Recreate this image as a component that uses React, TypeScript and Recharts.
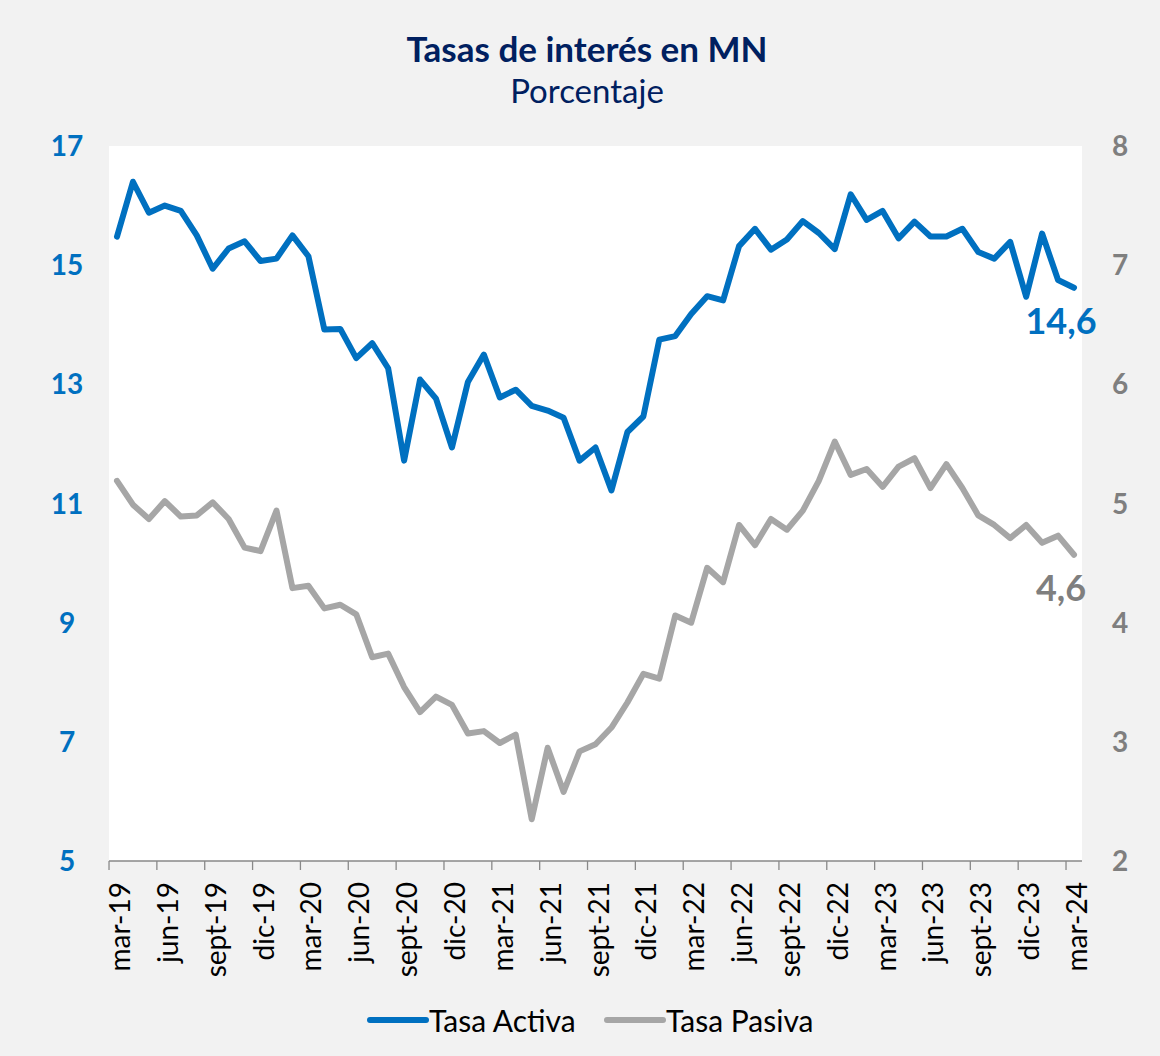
import React from 'react';
import { LineChart, Line, XAxis, YAxis, CartesianGrid, LabelList } from 'recharts';

const MONTH_NAMES = ['ene', 'feb', 'mar', 'abr', 'may', 'jun', 'jul', 'ago', 'sept', 'oct', 'nov', 'dic'];
const START_YEAR = 2019;
const START_MONTH = 2; // mar
const N_MONTHS = 61;
const categories: string[] = Array.from({ length: N_MONTHS }, (_, i) => {
  const m = (START_MONTH + i) % 12;
  const y = START_YEAR + Math.floor((START_MONTH + i) / 12);
  return `${MONTH_NAMES[m]}-${String(y).slice(2)}`;
});

const tasaActiva = [
  15.48, 16.40, 15.88, 16.00, 15.91, 15.50, 14.94, 15.28, 15.40, 15.07,
  15.11, 15.50, 15.15, 13.92, 13.93, 13.44, 13.69, 13.27, 11.72, 13.08,
  12.76, 11.94, 13.04, 13.50, 12.78, 12.91, 12.64, 12.56, 12.44, 11.72,
  11.94, 11.22, 12.20, 12.46, 13.75, 13.81, 14.18, 14.48, 14.41, 15.32,
  15.61, 15.26, 15.43, 15.74, 15.54, 15.27, 16.19, 15.76, 15.91, 15.45,
  15.73, 15.48, 15.48, 15.61, 15.22, 15.11, 15.39, 14.47, 15.53, 14.75,
  14.62,
];

const tasaPasiva = [
  5.19, 4.99, 4.87, 5.02, 4.89, 4.90, 5.01, 4.87, 4.63, 4.60,
  4.94, 4.29, 4.31, 4.12, 4.15, 4.07, 3.71, 3.74, 3.46, 3.25,
  3.38, 3.31, 3.07, 3.09, 2.99, 3.06, 2.35, 2.95, 2.58, 2.92,
  2.98, 3.12, 3.33, 3.57, 3.53, 4.06, 4.00, 4.46, 4.34, 4.82,
  4.65, 4.87, 4.78, 4.94, 5.19, 5.52, 5.24, 5.29, 5.14, 5.31,
  5.38, 5.13, 5.33, 5.13, 4.90, 4.82, 4.71, 4.82, 4.67, 4.73,
  4.57,
];

const leftTicks = [5, 7, 9, 11, 13, 15, 17];
const rightTicks = [2, 3, 4, 5, 6, 7, 8];

const TITLE = 'Tasas de interés en MN';
const SUBTITLE = 'Porcentaje';

const BLUE = '#0070c0';
const GRAY = '#a6a6a6';
const GRAY_TEXT = '#7f7f7f';
const NAVY = '#002060';
const FONT = 'Lato, "Open Sans", sans-serif';

const series = [
  { key: 'activa', name: 'Tasa Activa', color: BLUE, labelColor: BLUE, axis: 'left' },
  { key: 'pasiva', name: 'Tasa Pasiva', color: GRAY, labelColor: GRAY_TEXT, axis: 'right' },
];

const data = categories.map((mes, i) => ({ mes, activa: tasaActiva[i], pasiva: tasaPasiva[i] }));

const W = 1160;
const H = 1056;
const MARGIN = { top: 146, right: 0, left: 0, bottom: 75 };
const LEFT_W = 109;
const RIGHT_W = 78;
const XAXIS_H = 120;
const PAD = 8;
const PLOT_W = W - LEFT_W - RIGHT_W;
const STEP = (PLOT_W - 2 * PAD) / (N_MONTHS - 1);

const fmt = (v: number) => v.toFixed(1).replace('.', ',');

const XTick = (props: any) => {
  const { x, y, payload } = props;
  const bx = x - STEP / 2;
  const tx = x + 13;
  const ty = y + 21;
  return (
    <g>
      <line x1={bx} y1={y} x2={bx} y2={y + 9} stroke="#898989" strokeWidth={1.3} />
      <text
        x={tx}
        y={ty}
        transform={`rotate(-90, ${tx}, ${ty})`}
        textAnchor="end"
        fontFamily={FONT}
        fontSize={28}
        fill="#000"
      >
        {payload.value}
      </text>
    </g>
  );
};

const LeftTick = (props: any) => {
  const { x, y, payload } = props;
  return (
    <text x={x - 42} y={y + 10} textAnchor="middle" fontFamily={FONT} fontWeight={700} fontSize={28} fill={BLUE}>
      {payload.value}
    </text>
  );
};

const RightTick = (props: any) => {
  const { x, y, payload } = props;
  return (
    <text x={x + 38} y={y + 10} textAnchor="middle" fontFamily={FONT} fontWeight={700} fontSize={28} fill={GRAY_TEXT}>
      {payload.value}
    </text>
  );
};

const makeEndLabel = (color: string) => (props: any) => {
  const { x, y, index, value } = props;
  if (index !== N_MONTHS - 1) return <g />;
  return (
    <text x={x - 13} y={y + 46} textAnchor="middle" fontFamily={FONT} fontWeight={700} fontSize={36} fill={color}>
      {fmt(Number(value))}
    </text>
  );
};

export default function App() {
  return (
    <div style={{ position: 'absolute', left: 0, top: 0, width: W, height: H, background: '#f2f2f2', overflow: 'hidden' }}>
      <LineChart width={W} height={H} data={data} margin={MARGIN}>
        <CartesianGrid fill="#ffffff" horizontal={false} vertical={false} stroke="none" />
        <XAxis
          dataKey="mes"
          interval={2}
          height={XAXIS_H}
          padding={{ left: PAD, right: PAD }}
          tickLine={false}
          tickSize={0}
          tickMargin={0}
          axisLine={{ stroke: '#898989', strokeWidth: 1.3 }}
          tick={<XTick />}
        />
        <YAxis
          yAxisId="left"
          domain={[5, 17]}
          ticks={leftTicks}
          width={LEFT_W}
          axisLine={false}
          tickLine={false}
          tickSize={0}
          tickMargin={0}
          tick={<LeftTick />}
          allowDataOverflow
        />
        <YAxis
          yAxisId="right"
          orientation="right"
          domain={[2, 8]}
          ticks={rightTicks}
          width={RIGHT_W}
          axisLine={false}
          tickLine={false}
          tickSize={0}
          tickMargin={0}
          tick={<RightTick />}
          allowDataOverflow
        />
        {series.map((s) => (
          <Line
            key={s.key}
            yAxisId={s.axis}
            type="linear"
            dataKey={s.key}
            name={s.name}
            stroke={s.color}
            strokeWidth={6}
            strokeLinejoin="round"
            strokeLinecap="round"
            dot={false}
            activeDot={false}
            isAnimationActive={false}
          >
            <LabelList dataKey={s.key} content={makeEndLabel(s.labelColor)} />
          </Line>
        ))}
      </LineChart>
      <svg width={W} height={H} style={{ position: 'absolute', left: 0, top: 0, pointerEvents: 'none' }}>
        <text x={587} y={62} textAnchor="middle" fontFamily={FONT} fontWeight={700} fontSize={35} fill={NAVY}>
          {TITLE}
        </text>
        <text x={587} y={103} textAnchor="middle" fontFamily={FONT} fontSize={33} fill={NAVY}>
          {SUBTITLE}
        </text>
        {series.map((s, i) => {
          const x0 = i === 0 ? 370 : 607;
          return (
            <g key={s.key}>
              <line x1={x0} y1={1020} x2={x0 + 56} y2={1020} stroke={s.color} strokeWidth={6} strokeLinecap="round" />
              <text x={x0 + 59} y={1032} fontFamily={FONT} fontSize={30} fill="#000">
                {s.name}
              </text>
            </g>
          );
        })}
      </svg>
    </div>
  );
}
